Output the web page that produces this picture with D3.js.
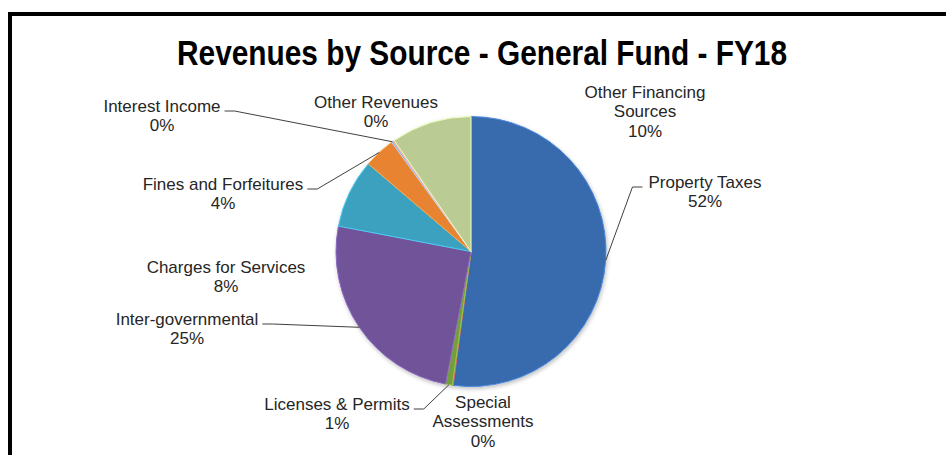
<!DOCTYPE html>
<html>
<head>
<meta charset="utf-8">
<script src="https://cdn.jsdelivr.net/npm/d3@7"></script>
<style>
  html, body { margin: 0; padding: 0; background: #fff; }
  svg { display: block; }
</style>
</head>
<body>
<svg id="chart" width="946" height="455"></svg>
<script>
// Revenue sources, in pie order (clockwise from 12 o'clock)
const categories = [
  "Property Taxes",
  "Special Assessments",
  "Licenses & Permits",
  "Inter-governmental",
  "Charges for Services",
  "Fines and Forfeitures",
  "Interest Income",
  "Other Revenues",
  "Other Financing Sources"
];
// Share of general fund revenue (percent)
const values = [51.9, 0.1, 0.8, 24.9, 8.2, 3.75, 0.2, 0.15, 9.6];

// Label text broken over lines
const labelLines = [
  ["Property Taxes"],
  ["Special", "Assessments"],
  ["Licenses & Permits"],
  ["Inter-governmental"],
  ["Charges for Services"],
  ["Fines and Forfeitures"],
  ["Interest Income"],
  ["Other Revenues"],
  ["Other Financing", "Sources"]
];

const sliceColors = ["#3d72ba", "#c0504d", "#7ba83e", "#7657a2", "#3eaccb",
                     "#f78c36", "#95b3d7", "#d99694", "#c6da9e"];

// Label anchors: centre x, first baseline, and which side gets a leader line
const labelLayout = [
  { x: 705, y: 188, leader: "left" },
  { x: 483, y: 408, leader: null },
  { x: 337, y: 410, leader: "right" },
  { x: 187, y: 325, leader: "right" },
  { x: 226, y: 273, leader: null },
  { x: 223, y: 190, leader: "right" },
  { x: 162, y: 112, leader: "right" },
  { x: 376, y: 108, leader: null },
  { x: 645, y: 98, leader: null }
];

const svg = d3.select("#chart");
const W = 946, H = 455;
const cx = 471, cy = 251.5, R = 135;
const lineGap = 19.4;

// Chart frame
svg.append("rect")
  .attr("x", 10).attr("y", 14)
  .attr("width", W + 40).attr("height", H + 40)
  .attr("fill", "#fff")
  .attr("stroke", "#000")
  .attr("stroke-width", 4);

// Title
svg.append("text")
  .attr("x", 482).attr("y", 64.5)
  .attr("text-anchor", "middle")
  .attr("font-family", "Liberation Sans, Arial, sans-serif")
  .attr("font-weight", "bold")
  .attr("font-size", 35)
  .attr("textLength", 610)
  .attr("lengthAdjust", "spacingAndGlyphs")
  .attr("fill", "#000")
  .text("Revenues by Source - General Fund - FY18");

const data = categories.map((c, i) => ({ name: c, value: values[i], i }));
const total = d3.sum(values);

const pie = d3.pie().value(d => d.value).sort(null);
const arcs = pie(data);
const arc = d3.arc().innerRadius(0).outerRadius(R);
const rimArc = d3.arc().innerRadius(R).outerRadius(R);

// Soft shading: slightly lighter toward the upper left, a touch darker at the rim
const defs = svg.append("defs");
sliceColors.forEach((c, i) => {
  const g = defs.append("radialGradient")
    .attr("id", "grad" + i)
    .attr("gradientUnits", "userSpaceOnUse")
    .attr("cx", cx - 25).attr("cy", cy - 30).attr("r", R * 1.3);
  const base = d3.color(c);
  g.append("stop").attr("offset", "0%").attr("stop-color", base.brighter(0.12));
  g.append("stop").attr("offset", "85%").attr("stop-color", base);
  g.append("stop").attr("offset", "100%").attr("stop-color", base.darker(0.18));
});

const shadow = defs.append("filter").attr("id", "pieShadow")
  .attr("x", "-20%").attr("y", "-20%").attr("width", "140%").attr("height", "140%");
shadow.append("feGaussianBlur").attr("in", "SourceAlpha").attr("stdDeviation", 2);
shadow.append("feOffset").attr("dx", 1).attr("dy", 2).attr("result", "off");
shadow.append("feComponentTransfer").append("feFuncA").attr("type", "linear").attr("slope", 0.25);
const merge = shadow.append("feMerge");
merge.append("feMergeNode");
merge.append("feMergeNode").attr("in", "SourceGraphic");

const pieG = svg.append("g")
  .attr("transform", `translate(${cx},${cy})`)
  .attr("filter", "url(#pieShadow)");

pieG.selectAll("path.slice")
  .data(arcs)
  .join("path")
  .attr("class", "slice")
  .attr("d", arc)
  .attr("fill", d => `url(#grad${d.index})`)
  .attr("stroke", d => d3.color(sliceColors[d.index]).brighter(0.5))
  .attr("stroke-width", 1)
  .attr("stroke-linejoin", "round");

// Labels
const fontFamily = "Liberation Sans, Arial, sans-serif";
const labelG = svg.append("g");
arcs.forEach(a => {
  const L = labelLayout[a.index];
  const lines = labelLines[a.index].concat([Math.round(a.value / total * 100) + "%"]);
  const t = labelG.append("text")
    .attr("text-anchor", "middle")
    .attr("font-family", fontFamily)
    .attr("font-size", 17)
    .attr("fill", "#262626");
  lines.forEach((ln, k) => {
    t.append("tspan").attr("x", L.x).attr("y", L.y + k * lineGap).text(ln);
  });

  if (L.leader) {
    const firstSpan = t.select("tspan").node();
    const w = firstSpan.getComputedTextLength();
    const rim = rimArc.centroid(a);
    const ex = cx + rim[0], ey = cy + rim[1];
    const ly = L.y - 1;
    let x0, x1;
    if (L.leader === "right") {
      x0 = L.x + w / 2 + 4;
      x1 = x0 + 10;
    } else {
      x0 = L.x - w / 2 - 6;
      x1 = x0 - 10;
    }
    labelG.append("path")
      .attr("d", `M${x0},${ly}L${x1},${ly}L${ex},${ey}`)
      .attr("fill", "none")
      .attr("stroke", "#404040")
      .attr("stroke-width", 1);
  }
});
</script>
</body>
</html>
